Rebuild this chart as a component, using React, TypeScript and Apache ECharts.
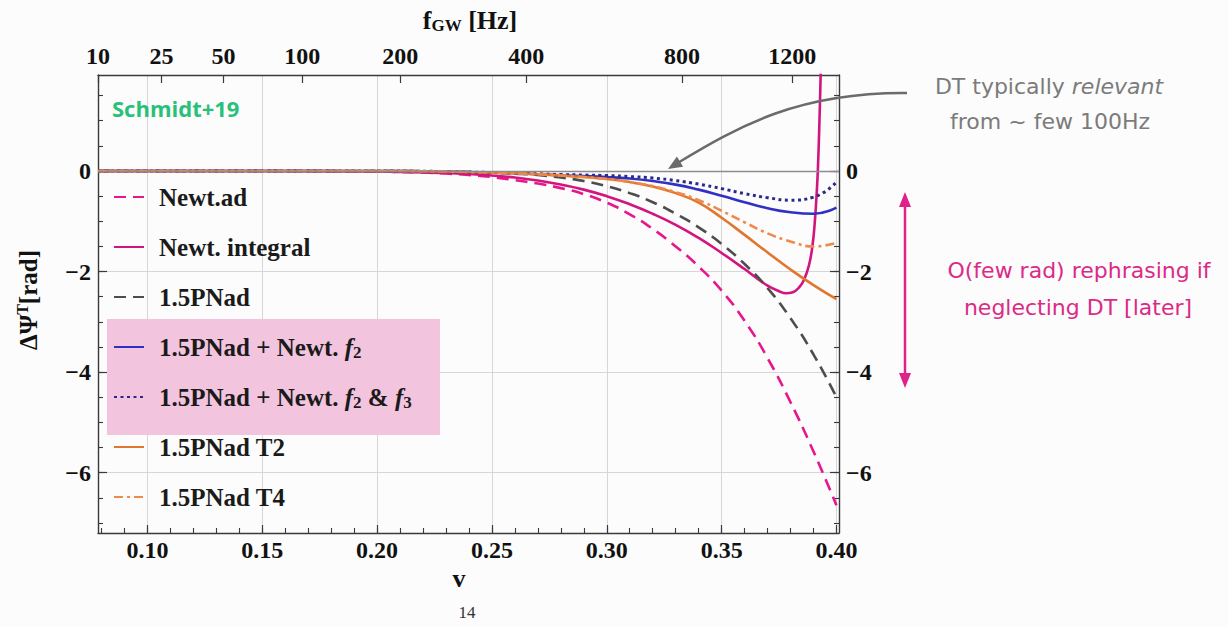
import React, { useEffect, useRef } from "react";
import * as echarts from "echarts";

// ---- data ----
const vGrid = [0.0785, 0.1, 0.15, 0.2, 0.21, 0.22, 0.23, 0.24, 0.25, 0.26, 0.27, 0.28, 0.29, 0.3, 0.31, 0.32, 0.33, 0.34, 0.35, 0.36, 0.37, 0.38, 0.39, 0.4];
const newtAd = [0, 0, 0, -0.01, -0.02, -0.03, -0.05, -0.08, -0.12, -0.18, -0.25, -0.34, -0.46, -0.63, -0.86, -1.15, -1.5, -1.9, -2.38, -2.98, -3.72, -4.6, -5.58, -6.65];
const pn15 = [0, 0, 0, 0, 0, -0.01, -0.01, -0.02, -0.03, -0.05, -0.08, -0.13, -0.2, -0.3, -0.44, -0.62, -0.85, -1.12, -1.45, -1.85, -2.33, -2.93, -3.65, -4.5];
const pnF2 = [0, 0, 0, 0, 0, -0.005, -0.01, -0.02, -0.03, -0.045, -0.065, -0.085, -0.1, -0.12, -0.15, -0.2, -0.27, -0.37, -0.49, -0.62, -0.74, -0.82, -0.85, -0.73];
const pnF2F3 = [0, 0, 0, 0, 0, -0.005, -0.01, -0.02, -0.03, -0.04, -0.055, -0.07, -0.08, -0.09, -0.11, -0.14, -0.19, -0.26, -0.35, -0.45, -0.53, -0.58, -0.52, -0.22];
const pnT2 = [0, 0, 0, 0, 0, -0.005, -0.01, -0.02, -0.03, -0.045, -0.065, -0.09, -0.12, -0.16, -0.22, -0.31, -0.44, -0.63, -0.93, -1.27, -1.62, -1.96, -2.27, -2.55];
const pnT4 = [0, 0, 0, 0, 0, -0.005, -0.01, -0.02, -0.03, -0.045, -0.065, -0.09, -0.12, -0.16, -0.22, -0.3, -0.42, -0.58, -0.79, -1.02, -1.24, -1.4, -1.5, -1.43];
const vIntegral = [0.0785, 0.15, 0.2, 0.21, 0.22, 0.23, 0.24, 0.25, 0.26, 0.27, 0.28, 0.29, 0.3, 0.31, 0.32, 0.33, 0.34, 0.35, 0.36, 0.365, 0.37, 0.375, 0.378, 0.381, 0.384, 0.386, 0.388, 0.3895, 0.3905, 0.3915, 0.392, 0.3925, 0.393, 0.3935];
const newtIntegral = [0, 0, -0.01, -0.02, -0.03, -0.04, -0.06, -0.09, -0.13, -0.19, -0.27, -0.37, -0.5, -0.66, -0.85, -1.07, -1.33, -1.63, -1.95, -2.12, -2.28, -2.39, -2.43, -2.41, -2.3, -2.15, -1.88, -1.5, -1.05, -0.35, 0.15, 0.85, 1.7, 2.6];

const seriesNames = [
  "Newt.ad",
  "Newt. integral",
  "1.5PNad",
  "1.5PNad + Newt. f2",
  "1.5PNad + Newt. f2 & f3",
  "1.5PNad T2",
  "1.5PNad T4",
];

const xMajorTicks = [0.1, 0.15, 0.2, 0.25, 0.3, 0.35, 0.4];
const yMajorTicks = [-6, -4, -2, 0];
const freqLabels = ["10", "25", "50", "100", "200", "400", "800", "1200"];
const freqPositions = [0.0785, 0.1061, 0.1331, 0.1674, 0.2101, 0.2649, 0.3328, 0.3807];

const X_MIN = 0.0785;
const X_MAX = 0.4011;
const Y_MIN = -7.2;
const Y_MAX = 1.91;

const xMinorTicks: number[] = [];
for (let i = 8; i <= 40; i++) xMinorTicks.push(i / 100);
const yMinorTicks: number[] = [];
for (let i = -14; i <= 3; i++) yMinorTicks.push(i / 2);

const SERIF = '"Liberation Serif", "Times New Roman", serif';
const SANS = '"DejaVu Sans", "Open Sans", sans-serif';
const FRAME = "#3a3a3a";

const fmtY = (v: number) => (v < 0 ? "\u2212" + Math.abs(v) : String(v));

function pairs(xs: number[], ys: number[]) {
  return xs.map((x, i) => [x, ys[i]]);
}

export default function App() {
  const ref = useRef<HTMLDivElement>(null);
  useEffect(() => {
    if (!ref.current) return;
    const chart = echarts.init(ref.current, undefined, { renderer: "svg" });

    const labelStyle = { fontFamily: SERIF, fontWeight: "bold", fontSize: 24, color: "#111" };
    const lineCommon = { type: "line", showSymbol: false, symbol: "none", smooth: 0.5, xAxisIndex: 0, yAxisIndex: 0 };

    const legendText: Record<string, string> = {
      "Newt.ad": "Newt.ad",
      "Newt. integral": "Newt. integral",
      "1.5PNad": "1.5PNad",
      "1.5PNad + Newt. f2": "1.5PNad + Newt. {i|f}{s|2}",
      "1.5PNad + Newt. f2 & f3": "1.5PNad + Newt. {i|f}{s|2} & {i|f}{s|3}",
      "1.5PNad T2": "1.5PNad T2",
      "1.5PNad T4": "1.5PNad T4",
    };

    const option: any = {
      animation: false,
      backgroundColor: "#fbfcfb",
      grid: { left: 98, right: 389, top: 75, bottom: 93, containLabel: false },
      xAxis: [
        {
          type: "value", min: X_MIN, max: X_MAX, position: "bottom",
          axisLine: { show: true, onZero: false, lineStyle: { color: FRAME, width: 1.4 } },
          axisTick: { show: true, inside: true, length: 8, customValues: xMajorTicks, lineStyle: { color: FRAME, width: 1.2 } },
          axisLabel: { show: true, customValues: xMajorTicks, margin: 5, formatter: (v: number) => v.toFixed(2), ...labelStyle },
          splitLine: { show: true, lineStyle: { color: "#d6d6d6", width: 1 } },
        },
        {
          type: "value", min: X_MIN, max: X_MAX, position: "bottom",
          axisLine: { show: false, onZero: false },
          axisTick: { show: true, inside: true, length: 5, customValues: xMinorTicks, lineStyle: { color: FRAME, width: 1.1 } },
          axisLabel: { show: false },
          splitLine: { show: false },
        },
        {
          type: "value", min: X_MIN, max: X_MAX, position: "top",
          axisLine: { show: true, onZero: false, lineStyle: { color: FRAME, width: 1.4 } },
          axisTick: { show: true, inside: true, length: 8, customValues: freqPositions, lineStyle: { color: FRAME, width: 1.2 } },
          axisLabel: {
            show: true, customValues: freqPositions, margin: 7, ...labelStyle,
            formatter: (v: number) => {
              let best = 0;
              for (let i = 0; i < freqPositions.length; i++) if (Math.abs(freqPositions[i] - v) < Math.abs(freqPositions[best] - v)) best = i;
              return freqLabels[best];
            },
          },
          splitLine: { show: false },
        },
      ],
      yAxis: [
        {
          type: "value", min: Y_MIN, max: Y_MAX, position: "left",
          axisLine: { show: true, onZero: false, lineStyle: { color: FRAME, width: 1.4 } },
          axisTick: { show: true, inside: true, length: 9, customValues: yMajorTicks, lineStyle: { color: FRAME, width: 1.2 } },
          axisLabel: { show: true, customValues: yMajorTicks, margin: 7, formatter: fmtY, ...labelStyle },
          splitLine: { show: true, lineStyle: { color: "#d6d6d6", width: 1 } },
        },
        {
          type: "value", min: Y_MIN, max: Y_MAX, position: "right",
          axisLine: { show: true, onZero: false, lineStyle: { color: FRAME, width: 1.4 } },
          axisTick: { show: true, inside: true, length: 9, customValues: yMajorTicks, lineStyle: { color: FRAME, width: 1.2 } },
          axisLabel: { show: true, customValues: yMajorTicks, margin: 7, formatter: fmtY, ...labelStyle },
          splitLine: { show: false },
        },
        {
          type: "value", min: Y_MIN, max: Y_MAX, position: "left",
          axisLine: { show: false, onZero: false },
          axisTick: { show: true, inside: true, length: 5, customValues: yMinorTicks, lineStyle: { color: FRAME, width: 1.1 } },
          axisLabel: { show: false }, splitLine: { show: false },
        },
        {
          type: "value", min: Y_MIN, max: Y_MAX, position: "right",
          axisLine: { show: false, onZero: false },
          axisTick: { show: true, inside: true, length: 5, customValues: yMinorTicks, lineStyle: { color: FRAME, width: 1.1 } },
          axisLabel: { show: false }, splitLine: { show: false },
        },
      ],
      legend: {
        orient: "vertical", left: 113, top: 182, padding: 0, itemGap: 20,
        itemWidth: 30, itemHeight: 14, selectedMode: false,
        itemStyle: { opacity: 0 },
        data: seriesNames,
        formatter: (name: string) => legendText[name] || name,
        textStyle: {
          fontFamily: SERIF, fontWeight: "bold", fontSize: 25, color: "#1a1a1a", lineHeight: 30,
          padding: [0, 0, 0, 10],
          rich: {
            i: { fontFamily: SERIF, fontWeight: "bold", fontStyle: "italic", fontSize: 25, color: "#1a1a1a", lineHeight: 30 },
            s: { fontFamily: SERIF, fontWeight: "bold", fontSize: 17, color: "#1a1a1a", lineHeight: 30, padding: [10, 0, 0, 0] },
          },
        },
      },
      series: [
        {
          ...lineCommon, name: seriesNames[0], data: pairs(vGrid, newtAd),
          lineStyle: { color: "#e8168c", width: 2.6, type: [12, 7] }, itemStyle: { color: "#e8168c" },
          markLine: {
            silent: true, symbol: "none", label: { show: false },
            lineStyle: { color: "#8c8c8c", width: 1.4, type: "solid" },
            data: [{ yAxis: 0 }],
          },
        },
        {
          ...lineCommon, name: seriesNames[1], data: pairs(vIntegral, newtIntegral),
          lineStyle: { color: "#d3147f", width: 2.6, type: "solid" }, itemStyle: { color: "#d3147f" },
        },
        {
          ...lineCommon, name: seriesNames[2], data: pairs(vGrid, pn15),
          lineStyle: { color: "#4d4d4d", width: 2.6, type: [12, 7] }, itemStyle: { color: "#4d4d4d" },
        },
        {
          ...lineCommon, name: seriesNames[3], data: pairs(vGrid, pnF2),
          lineStyle: { color: "#3030c4", width: 2.6, type: "solid" }, itemStyle: { color: "#3030c4" },
        },
        {
          ...lineCommon, name: seriesNames[4], data: pairs(vGrid, pnF2F3),
          lineStyle: { color: "#2a2a8e", width: 3, type: [3, 3.5] }, itemStyle: { color: "#2a2a8e" },
        },
        {
          ...lineCommon, name: seriesNames[5], data: pairs(vGrid, pnT2),
          lineStyle: { color: "#e2762e", width: 2.6, type: "solid" }, itemStyle: { color: "#e2762e" },
        },
        {
          ...lineCommon, name: seriesNames[6], data: pairs(vGrid, pnT4),
          lineStyle: { color: "#f08a4a", width: 2.6, type: [9, 4, 3, 4] }, itemStyle: { color: "#f08a4a" },
        },
      ],
      graphic: [
        { type: "rect", z: 1, shape: { x: 107, y: 319, width: 333, height: 116 }, style: { fill: "#f3c4de" } },
        {
          type: "text", x: 112, y: 108, z: 10,
          style: { text: "Schmidt+19", fill: "#29c07a", fontFamily: '"Open Sans", Lato, sans-serif', fontWeight: "bold", fontSize: 22, verticalAlign: "middle", align: "left" },
        },
        {
          type: "text", x: 470, y: 20, z: 10,
          style: {
            text: "{b|f}{s|GW}{b| [Hz]}", align: "center", verticalAlign: "middle", fill: "#111",
            rich: {
              b: { fontFamily: SERIF, fontWeight: "bold", fontSize: 26, fill: "#111", lineHeight: 30 },
              s: { fontFamily: SERIF, fontWeight: "bold", fontSize: 17, fill: "#111", lineHeight: 30, padding: [11, 0, 0, 0] },
            },
          },
        },
        {
          type: "text", x: 459, y: 578, z: 10,
          style: { text: "v", fontFamily: SERIF, fontWeight: "bold", fontSize: 26, fill: "#111", align: "center", verticalAlign: "middle" },
        },
        {
          type: "text", x: 28, y: 300, rotation: Math.PI / 2, z: 10,
          style: {
            text: "{b|\u0394\u03a8}{p|T}{b|[rad]}", align: "center", verticalAlign: "middle", fill: "#111",
            rich: {
              b: { fontFamily: SERIF, fontWeight: "bold", fontSize: 25, fill: "#111", lineHeight: 30 },
              p: { fontFamily: SERIF, fontWeight: "bold", fontSize: 16, fill: "#111", lineHeight: 30, padding: [0, 0, 12, 0] },
            },
          },
        },
        {
          type: "text", x: 467, y: 604, z: 10,
          style: { text: "14", fontFamily: SERIF, fontSize: 17, fill: "#333", align: "center", verticalAlign: "top" },
        },
        // gray arrow
        {
          type: "bezierCurve", z: 10,
          shape: { x1: 907, y1: 93, cpx1: 800, cpy1: 92, cpx2: 740, cpy2: 125, x2: 676, y2: 164 },
          style: { stroke: "#6b6b6b", lineWidth: 2.5, fill: null },
        },
        {
          type: "polygon", z: 10,
          shape: { points: [[668, 169], [683.1, 166.8], [676.9, 156.6]] },
          style: { fill: "#6b6b6b" },
        },
        // pink double arrow
        { type: "line", z: 10, shape: { x1: 905, y1: 203, x2: 905, y2: 377 }, style: { stroke: "#e0218a", lineWidth: 2.5 } },
        { type: "polygon", z: 10, shape: { points: [[905, 192], [899, 207], [911, 207]] }, style: { fill: "#e0218a" } },
        { type: "polygon", z: 10, shape: { points: [[905, 388], [899, 373], [911, 373]] }, style: { fill: "#e0218a" } },
        {
          type: "text", x: 1049, y: 86, z: 10,
          style: {
            text: "{n|DT typically }{it|relevant}", align: "center", verticalAlign: "middle",
            rich: {
              n: { fontFamily: SANS, fontSize: 22, fill: "#7b7b7b" },
              it: { fontFamily: SANS, fontSize: 22, fontStyle: "italic", fill: "#7b7b7b" },
            },
          },
        },
        {
          type: "text", x: 1050, y: 121, z: 10,
          style: { text: "from ~ few 100Hz", fontFamily: SANS, fontSize: 22, fill: "#7b7b7b", align: "center", verticalAlign: "middle" },
        },
        {
          type: "text", x: 1079, y: 270, z: 10,
          style: { text: "O(few rad) rephrasing if", fontFamily: SANS, fontSize: 22, fill: "#dc2a88", align: "center", verticalAlign: "middle" },
        },
        {
          type: "text", x: 1078, y: 307, z: 10,
          style: { text: "neglecting DT [later]", fontFamily: SANS, fontSize: 22, fill: "#dc2a88", align: "center", verticalAlign: "middle" },
        },
      ],
    };

    chart.setOption(option);
    return () => chart.dispose();
  }, []);

  return <div ref={ref} style={{ position: "fixed", left: 0, top: 0, width: 1228, height: 626 }} />;
}
